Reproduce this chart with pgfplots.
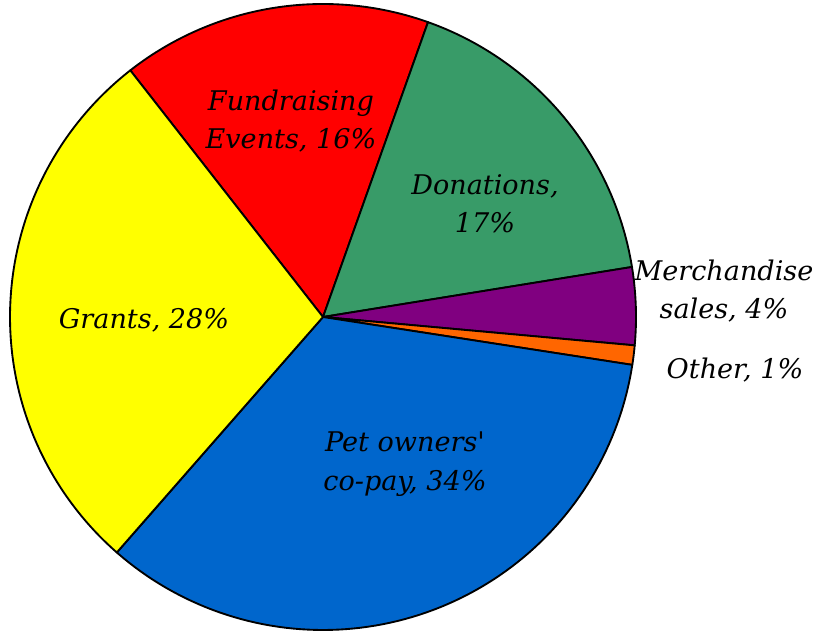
\documentclass[border=0pt]{standalone}
\usepackage{pgfplots}
\usepackage{pgfplotstable}
\pgfplotsset{compat=1.18}
\usepackage{fontspec}
\setmainfont{DejaVu Serif}
\definecolor{cFund}{HTML}{FF0000}
\definecolor{cDon}{HTML}{389B68}
\definecolor{cMerch}{HTML}{800080}
\definecolor{cOther}{HTML}{FF6600}
\definecolor{cPet}{HTML}{0066CC}
\definecolor{cGrant}{HTML}{FFFF00}
\tikzset{lab/.style={font=\fontsize{20.3}{28.8}\selectfont\itshape, align=center, inner sep=0pt}}
\pgfplotstableread[col sep=comma]{
label,value
Fundraising Events,16
Donations,17
Merchandise sales,4
Other,1
Pet owners co-pay,34
Grants,28
}\piedata
\begin{document}
\begin{tikzpicture}
\begin{axis}[
  width=615pt, height=474pt, scale only axis,
  xmin=0, xmax=820, ymin=0, ymax=632,
  axis lines=none, ticks=none, clip=false,
]
\addplot[draw=none, forget plot] coordinates {(0,0) (820,632)};
\xdef\startangle{128}
\foreach \i/\col in {0/cFund,1/cDon,2/cMerch,3/cOther,4/cPet,5/cGrant}{
  \pgfplotstablegetelem{\i}{value}\of\piedata
  \pgfmathsetmacro\endangle{\startangle-3.6*\pgfplotsretval}
  \edef\temp{\noexpand\addplot[fill=\col, draw=black, line width=1.4pt, line join=round, domain=\endangle:\startangle, samples=90] ({323+313*cos(x)},{315+313*sin(x)}) -- (axis cs:323,315) -- cycle;}
  \temp
  \xdef\startangle{\endangle}
}
\node[lab] at (axis cs:291,511) {Fundraising\\Events, 16\%};
\node[lab] at (axis cs:485,428) {Donations,\\17\%};
\node[lab] at (axis cs:724,341) {Merchandise\\sales, 4\%};
\node[lab] at (axis cs:735,262) {Other, 1\%};
\node[lab] at (axis cs:405,168) {Pet owners\textquotesingle\\co-pay, 34\%};
\node[lab] at (axis cs:144,312) {Grants, 28\%};
\end{axis}
\end{tikzpicture}
\end{document}
